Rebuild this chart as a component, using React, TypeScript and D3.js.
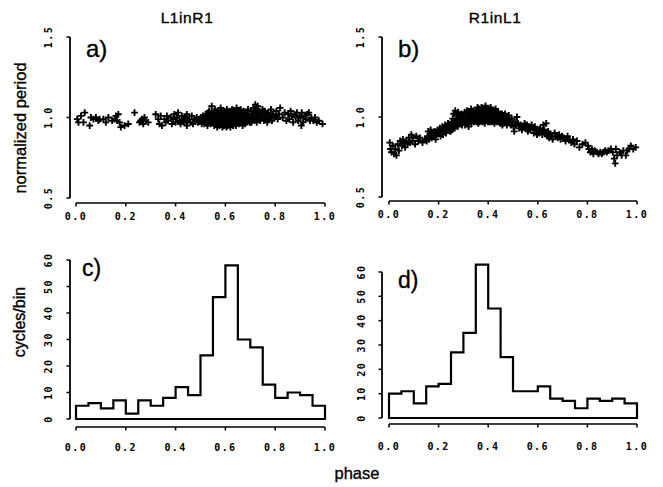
import React from "react";
import * as d3 from "d3";

const phaseTicks = [0, 0.2, 0.4, 0.6, 0.8, 1.0];
const periodTicks = [0.5, 1.0, 1.5];
const countTicks = [0, 10, 20, 30, 40, 50, 60];
const binWidth = 0.05;

const countsC = [5, 6, 4, 7, 2, 7, 5, 8, 12, 9, 24, 46, 58, 30, 27, 13, 8, 10, 9, 5];
const countsD = [10, 11, 6, 13, 14, 27, 35, 63, 45, 25, 11, 11, 13, 8, 7, 4, 8, 7, 8, 6];

const scatterA: [number, number][] = [
  [0.005,0.99],[0.01,0.97],[0.02,1.01],[0.03,0.97],[0.035,1.03],
  [0.055,0.95],[0.06,1.00],[0.07,0.99],[0.08,1.00],[0.09,0.98],[0.095,0.99],
  [0.11,0.99],[0.12,0.97],[0.13,1.00],[0.145,0.98],
  [0.155,0.99],[0.16,1.01],[0.165,0.98],[0.17,1.02],[0.175,0.97],[0.18,0.94],[0.195,0.95],
  [0.21,0.96],[0.235,1.03],
  [0.255,0.97],[0.26,0.98],[0.265,0.99],[0.27,0.96],[0.275,1.00],[0.28,0.98],[0.29,0.97],
  [0.32,1.02],[0.33,0.99],[0.335,0.96],[0.34,1.01],[0.345,0.95],
  [0.355,0.99],[0.36,0.97],[0.365,1.01],[0.37,0.98],[0.38,1.00],[0.385,0.96],[0.39,0.99],[0.395,1.02],
  [0.40,0.97],[0.405,1.00],[0.41,1.03],[0.415,0.98],[0.42,0.96],[0.425,1.01],[0.43,0.99],[0.435,0.97],[0.44,1.00],[0.445,0.95],[0.445,1.02],[0.448,0.98],
  [0.455,0.99],[0.46,0.97],[0.465,1.01],[0.47,0.96],[0.475,0.99],[0.48,0.98],[0.485,1.00],[0.49,0.97],[0.495,0.99],
  [0.50,0.98],[0.502,1.00],[0.505,0.96],[0.51,1.01],[0.512,0.98],[0.515,0.99],[0.52,1.02],[0.522,0.97],[0.525,1.00],[0.528,0.95],[0.53,0.99],[0.532,1.03],[0.535,0.98],[0.538,1.01],[0.54,0.96],[0.542,1.00],[0.545,1.07],[0.547,0.98],[0.548,1.02],[0.549,0.97],[0.515,0.96],[0.535,1.04],
  [0.551,1.00],[0.552,0.97],[0.554,1.03],[0.555,0.95],[0.557,0.99],[0.558,1.05],[0.56,0.98],[0.561,1.01],[0.563,0.96],[0.564,1.02],[0.566,0.99],[0.567,0.94],[0.569,1.04],[0.57,0.98],[0.572,1.00],[0.573,0.97],[0.575,1.03],[0.576,0.95],[0.578,1.01],[0.579,0.99],[0.581,1.06],[0.582,0.96],[0.584,1.02],[0.585,0.98],[0.587,1.00],[0.588,0.94],[0.59,1.03],[0.591,0.97],[0.593,1.01],[0.594,0.99],[0.596,1.04],[0.597,0.96],[0.599,1.00],[0.565,1.00],[0.585,1.04],[0.595,0.95],
  [0.601,0.98],[0.602,1.02],[0.604,0.94],[0.605,1.00],[0.606,1.05],[0.608,0.97],[0.609,1.01],[0.61,0.95],[0.612,0.99],[0.613,1.03],[0.615,0.96],[0.616,1.00],[0.617,1.04],[0.619,0.98],[0.62,0.94],[0.621,1.02],[0.623,0.99],[0.624,0.96],[0.625,1.01],[0.627,1.05],[0.628,0.97],[0.629,1.00],[0.631,0.95],[0.632,1.03],[0.633,0.98],[0.635,1.01],[0.636,0.96],[0.637,1.04],[0.639,0.99],[0.64,0.97],[0.641,1.02],[0.643,0.95],[0.644,1.00],[0.645,1.06],[0.646,0.98],[0.647,1.01],[0.648,0.97],[0.649,1.03],[0.61,1.00],[0.63,1.00],
  [0.651,0.99],[0.653,1.03],[0.655,0.96],[0.657,1.01],[0.659,0.98],[0.661,1.05],[0.663,0.97],[0.665,1.00],[0.667,1.02],[0.669,0.95],[0.671,0.99],[0.673,1.04],[0.675,0.98],[0.677,1.01],[0.679,0.96],[0.681,1.03],[0.683,1.00],[0.685,0.97],[0.687,1.02],[0.689,0.99],[0.691,1.05],[0.693,0.98],[0.695,1.01],[0.698,0.97],
  [0.701,1.00],[0.703,1.04],[0.705,0.97],[0.708,1.02],[0.71,0.99],[0.712,1.06],[0.714,1.01],[0.716,0.98],[0.718,1.03],[0.72,1.08],[0.722,1.00],[0.724,1.05],[0.726,0.97],[0.728,1.02],[0.73,1.07],[0.732,0.99],[0.735,1.04],[0.738,1.01],[0.74,0.98],[0.743,1.03],[0.746,1.00],[0.749,1.05],
  [0.752,1.01],[0.755,0.98],[0.758,1.04],[0.762,1.00],[0.765,1.02],[0.768,0.97],[0.772,1.03],[0.775,0.99],[0.779,1.01],[0.783,1.05],[0.787,0.98],[0.791,1.02],[0.796,1.00],
  [0.80,1.01],[0.805,1.04],[0.81,0.99],[0.815,1.02],[0.82,1.06],[0.83,1.00],[0.838,1.03],[0.845,0.98],
  [0.852,1.02],[0.857,0.99],[0.862,1.04],[0.867,1.01],[0.872,0.97],[0.877,1.02],[0.882,1.00],[0.887,1.03],[0.892,0.98],[0.897,1.01],
  [0.902,1.00],[0.905,0.95],[0.907,1.03],[0.912,0.97],[0.917,1.01],[0.922,0.99],[0.927,1.02],[0.935,1.03],[0.94,0.98],[0.945,1.00],
  [0.953,0.98],[0.96,1.00],[0.967,0.97],[0.975,0.98],[0.99,0.96]
];

const scatterB: [number, number][] = [
  [0.003,0.84],[0.006,0.80],[0.01,0.78],[0.015,0.82],[0.02,0.77],[0.025,0.80],[0.03,0.76],[0.035,0.83],[0.04,0.79],[0.045,0.85],
  [0.052,0.82],[0.056,0.86],[0.06,0.84],[0.065,0.81],[0.07,0.85],[0.075,0.83],[0.08,0.87],[0.085,0.84],[0.09,0.89],[0.094,0.85],[0.098,0.87],
  [0.105,0.83],[0.11,0.88],[0.118,0.85],[0.125,0.87],[0.135,0.84],[0.145,0.86],
  [0.152,0.85],[0.155,0.88],[0.158,0.91],[0.162,0.86],[0.165,0.89],[0.168,0.92],[0.172,0.87],[0.176,0.90],[0.18,0.88],[0.184,0.91],[0.188,0.86],[0.192,0.89],[0.196,0.92],
  [0.202,0.90],[0.205,0.93],[0.208,0.88],[0.212,0.91],[0.215,0.94],[0.218,0.89],[0.222,0.92],[0.226,0.95],[0.23,0.90],[0.234,0.93],[0.238,0.96],[0.242,0.92],[0.245,0.95],[0.248,0.91],
  [0.251,0.94],[0.253,0.97],[0.255,0.92],[0.257,0.99],[0.259,0.95],[0.261,1.02],[0.263,0.96],[0.265,0.93],[0.267,1.04],[0.269,0.98],[0.271,0.95],[0.273,1.01],[0.275,0.97],[0.277,0.94],[0.279,1.03],[0.281,0.99],[0.284,0.96],[0.287,1.00],[0.29,0.97],[0.292,1.02],[0.295,0.95],[0.298,0.99],
  [0.301,1.01],[0.303,0.97],[0.305,1.03],[0.307,0.95],[0.309,0.99],[0.311,1.02],[0.313,0.96],[0.315,1.04],[0.317,0.98],[0.319,1.00],[0.321,0.94],[0.323,1.03],[0.325,0.97],[0.327,1.01],[0.329,0.99],[0.331,1.05],[0.333,0.96],[0.335,1.02],[0.337,0.98],[0.339,1.00],[0.341,1.04],[0.343,0.97],[0.345,1.01],[0.347,0.99],[0.349,1.03],[0.32,1.01],
  [0.351,1.00],[0.352,1.04],[0.353,0.97],[0.355,1.02],[0.356,0.99],[0.357,1.06],[0.358,1.01],[0.36,0.96],[0.361,1.03],[0.362,0.99],[0.364,1.05],[0.365,1.00],[0.366,0.97],[0.368,1.02],[0.369,1.04],[0.37,0.98],[0.372,1.01],[0.373,1.06],[0.374,0.99],[0.376,1.03],[0.377,0.97],[0.378,1.00],[0.38,1.05],[0.381,1.02],[0.382,0.98],[0.384,1.04],[0.385,1.00],[0.386,0.96],[0.388,1.03],[0.389,1.07],[0.39,0.99],[0.392,1.01],[0.393,1.05],[0.394,0.98],[0.396,1.02],[0.397,1.04],[0.398,1.00],[0.399,0.97],[0.37,1.03],[0.39,1.03],
  [0.401,1.02],[0.403,0.98],[0.404,1.05],[0.406,1.00],[0.407,0.97],[0.409,1.03],[0.41,1.06],[0.412,0.99],[0.413,1.01],[0.415,1.04],[0.416,0.97],[0.418,1.02],[0.419,1.00],[0.421,0.98],[0.422,1.04],[0.424,1.01],[0.425,0.96],[0.427,1.03],[0.428,0.99],[0.43,1.05],[0.432,1.00],[0.434,0.97],[0.436,1.02],[0.438,0.99],[0.44,1.03],[0.442,0.97],[0.444,1.01],[0.446,0.98],[0.448,1.02],[0.449,0.96],
  [0.451,1.00],[0.453,0.97],[0.455,1.02],[0.457,0.95],[0.459,0.99],[0.461,1.01],[0.463,0.96],[0.466,0.98],[0.468,1.02],[0.47,0.97],[0.473,1.00],[0.475,0.95],[0.478,0.99],[0.48,0.97],[0.483,1.01],[0.486,0.96],[0.489,0.98],[0.492,0.95],[0.495,0.99],[0.498,0.97],
  [0.502,0.94],[0.505,0.91],[0.508,0.97],[0.512,0.95],[0.516,1.00],[0.52,0.96],[0.525,0.93],[0.53,0.95],[0.536,0.92],[0.542,0.94],[0.547,0.96],
  [0.552,0.93],[0.556,0.95],[0.56,0.91],[0.565,0.94],[0.57,0.92],[0.575,0.95],[0.58,0.93],[0.584,0.90],[0.588,0.94],[0.593,0.92],[0.597,0.89],
  [0.602,0.92],[0.606,0.90],[0.61,0.93],[0.614,0.91],[0.618,0.89],[0.622,0.95],[0.626,0.92],[0.63,0.90],[0.634,0.96],[0.638,0.88],[0.642,0.91],[0.646,0.87],[0.649,0.89],
  [0.655,0.88],[0.66,0.86],[0.668,0.90],[0.675,0.88],[0.68,0.87],[0.686,0.89],[0.692,0.86],[0.698,0.88],
  [0.705,0.87],[0.712,0.85],[0.72,0.88],[0.728,0.86],[0.735,0.84],[0.742,0.86],[0.748,0.83],
  [0.758,0.85],[0.768,0.81],[0.78,0.83],[0.792,0.84],
  [0.802,0.82],[0.806,0.80],[0.812,0.78],[0.818,0.80],[0.824,0.77],[0.83,0.79],[0.838,0.78],[0.845,0.77],
  [0.852,0.78],[0.858,0.77],[0.865,0.78],[0.872,0.79],[0.878,0.78],[0.885,0.79],[0.895,0.80],
  [0.902,0.78],[0.908,0.74],[0.912,0.71],[0.915,0.80],[0.92,0.76],[0.93,0.78],[0.938,0.76],[0.945,0.79],
  [0.955,0.76],[0.96,0.79],[0.968,0.80],[0.975,0.82],[0.985,0.80],[0.995,0.81]
];

const TICK_FONT = "'DejaVu Sans Mono', monospace";
const SANS = "'Liberation Sans', Arial, sans-serif";
const textInk = { stroke: "#000", strokeWidth: 0.35 };

type AxisProps = {
  x: d3.ScaleLinear<number, number>;
  y: d3.ScaleLinear<number, number>;
  yTicks: number[];
  yFmt: (v: number) => string;
  axisY: number;
  axisX: number;
  xLabelY: number;
  yLabelX: number;
};

function Axes({ x, y, yTicks, yFmt, axisY, axisX, xLabelY, yLabelX }: AxisProps) {
  const fmt = d3.format(".1f");
  return (
    <g stroke="#000" fill="none">
      <line x1={x(phaseTicks[0])} x2={x(phaseTicks[phaseTicks.length - 1])} y1={axisY} y2={axisY} strokeWidth={1.5} />
      {phaseTicks.map((t) => (
        <g key={"x" + t}>
          <line x1={x(t)} x2={x(t)} y1={axisY} y2={axisY + 3.5} strokeWidth={1.5} />
          <text x={x(t)} y={xLabelY} textAnchor="middle" dominantBaseline="central" stroke="none" fill="#000"
            style={{ fontFamily: TICK_FONT, fontWeight: 700, fontSize: 10, letterSpacing: 1.4 }}>
            {fmt(t)}
          </text>
        </g>
      ))}
      <line x1={axisX} x2={axisX} y1={y(yTicks[0])} y2={y(yTicks[yTicks.length - 1])} strokeWidth={1.8} />
      {yTicks.map((t) => (
        <g key={"y" + t}>
          <line x1={axisX} x2={axisX - 3.5} y1={y(t)} y2={y(t)} strokeWidth={1.5} />
          <text transform={`translate(${yLabelX},${y(t)}) rotate(-90)`} textAnchor="middle" dominantBaseline="central"
            stroke="none" fill="#000" style={{ fontFamily: TICK_FONT, fontWeight: 700, fontSize: 10, letterSpacing: 1.4 }}>
            {yFmt(t)}
          </text>
        </g>
      ))}
    </g>
  );
}

function Scatter({ data, x, y }: { data: [number, number][]; x: d3.ScaleLinear<number, number>; y: d3.ScaleLinear<number, number> }) {
  const d = data.map(([p, v]) => `M${x(p) - 3.4},${y(v)}h6.8M${x(p)},${y(v) - 3.4}v6.8`).join("");
  return <path d={d} stroke="#000" strokeWidth={1.9} fill="none" />;
}

function Hist({ counts, x, y }: { counts: number[]; x: d3.ScaleLinear<number, number>; y: d3.ScaleLinear<number, number> }) {
  const pts: [number, number][] = [[0, 0]];
  counts.forEach((c, i) => {
    pts.push([i * binWidth, c]);
    pts.push([(i + 1) * binWidth, c]);
  });
  pts.push([counts.length * binWidth, 0]);
  const line = d3.line<[number, number]>().x((d) => x(d[0])).y((d) => y(d[1]));
  return <path d={line(pts)! + "Z"} stroke="#000" strokeWidth={2.2} fill="none" strokeLinejoin="miter" />;
}

export default function App() {
  const xA = d3.scaleLinear().domain([0, 1]).range([76, 325]);
  const yA = d3.scaleLinear().domain([0.5, 1.5]).range([198, 37]);
  const xB = d3.scaleLinear().domain([0, 1]).range([389, 637]);
  const yB = d3.scaleLinear().domain([0.5, 1.5]).range([197, 37]);
  const xC = d3.scaleLinear().domain([0, 1]).range([76, 325]);
  const yC = d3.scaleLinear().domain([0, 60]).range([419, 260]);
  const xD = d3.scaleLinear().domain([0, 1]).range([389, 637]);
  const yD = d3.scaleLinear().domain([0, 60]).range([418, 272]);
  const f1 = d3.format(".1f");
  const f0 = d3.format("d");

  return (
    <svg width={663} height={487} style={{ position: "absolute", left: 0, top: 0, background: "#fff" }}>
      <rect width={663} height={487} fill="#fff" />
      <text x={187} y={23} textAnchor="middle" style={{ fontFamily: SANS, fontSize: 15.5, letterSpacing: 0.6, ...textInk }}>L1inR1</text>
      <text x={495} y={23} textAnchor="middle" style={{ fontFamily: SANS, fontSize: 15.5, letterSpacing: 0.6, ...textInk }}>R1inL1</text>
      <text transform="translate(26,128) rotate(-90)" textAnchor="middle" style={{ fontFamily: SANS, fontSize: 16.5, ...textInk }}>normalized period</text>
      <text transform="translate(25,322) rotate(-90)" textAnchor="middle" style={{ fontFamily: SANS, fontSize: 16, ...textInk }}>cycles/bin</text>
      <text x={357} y={479} textAnchor="middle" style={{ fontFamily: SANS, fontSize: 16.5, ...textInk }}>phase</text>

      <Axes x={xA} y={yA} yTicks={periodTicks} yFmt={f1} axisY={203} axisX={70} xLabelY={216} yLabelX={48} />
      <Axes x={xB} y={yB} yTicks={periodTicks} yFmt={f1} axisY={201} axisX={382} xLabelY={214} yLabelX={360} />
      <Axes x={xC} y={yC} yTicks={countTicks} yFmt={f0} axisY={427} axisX={70} xLabelY={447} yLabelX={48} />
      <Axes x={xD} y={yD} yTicks={countTicks} yFmt={f0} axisY={424} axisX={382} xLabelY={446} yLabelX={361} />

      <Scatter data={scatterA} x={xA} y={yA} />
      <Scatter data={scatterB} x={xB} y={yB} />
      <Hist counts={countsC} x={xC} y={yC} />
      <Hist counts={countsD} x={xD} y={yD} />

      <text x={86} y={57} style={{ fontFamily: SANS, fontSize: 24, ...textInk }}>a)</text>
      <text x={398} y={57} style={{ fontFamily: SANS, fontSize: 24, ...textInk }}>b)</text>
      <text x={82} y={276} style={{ fontFamily: SANS, fontSize: 23, ...textInk }}>c)</text>
      <text x={398} y={288} style={{ fontFamily: SANS, fontSize: 23, ...textInk }}>d)</text>
    </svg>
  );
}
